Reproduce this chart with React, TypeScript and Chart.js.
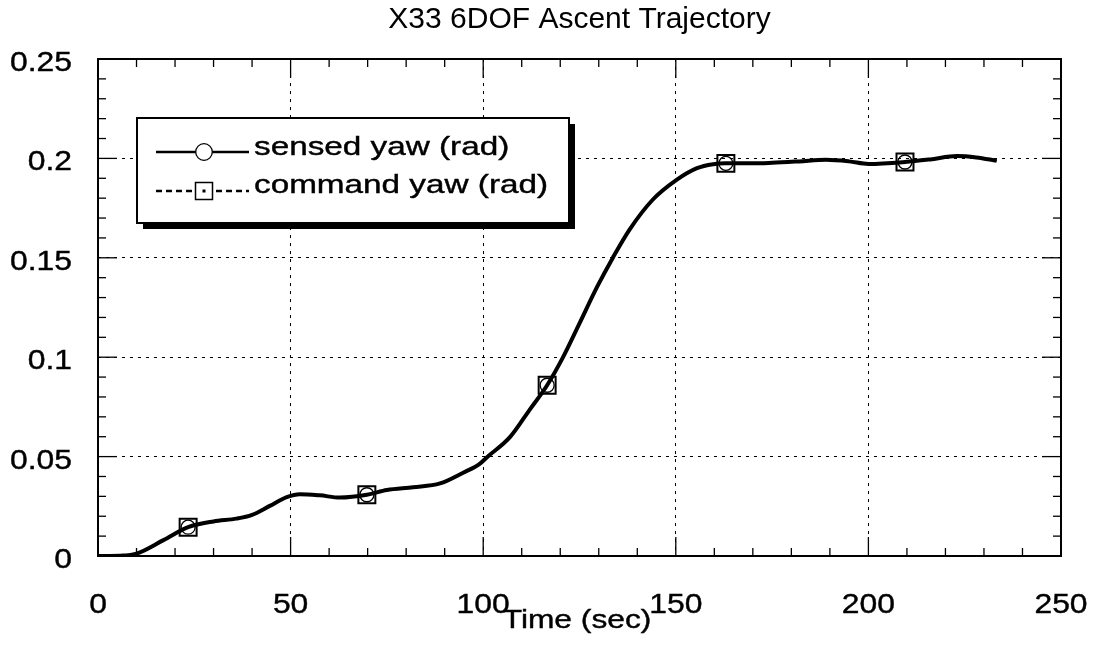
import React, { useEffect, useRef } from 'react';
import { Chart, registerables } from 'chart.js';

Chart.register(...registerables);

// Time samples (s) and yaw angles (rad)
const timeSec = [
  0, 3, 6.5, 10, 17, 23.4, 30, 36, 40, 44.6, 49, 52.4, 57.6, 62.8, 69.8, 75, 81.8, 88.8, 94.8, 99,
  101, 107, 112, 116.6, 120.7, 125, 129.5, 133.7, 138, 144, 150.2, 155.5, 159.7, 163, 170, 175, 182,
  189, 195, 200, 209.5, 216, 223, 228, 233.3,
];
const sensedYaw = [
  0, 0, 0.0002, 0.0012, 0.008, 0.0145, 0.0174, 0.0188, 0.0207, 0.0252, 0.0296, 0.0311, 0.0305,
  0.0294, 0.0308, 0.0332, 0.0346, 0.0365, 0.0419, 0.0462, 0.0497, 0.0599, 0.0734, 0.0859, 0.0999,
  0.117, 0.1351, 0.1502, 0.1642, 0.1792, 0.1892, 0.1951, 0.1971, 0.1975, 0.1975, 0.1978, 0.1985,
  0.1993, 0.1985, 0.1972, 0.1982, 0.1995, 0.2012, 0.2005, 0.1988,
];
const commandYaw = [
  0, 0, 0.0002, 0.0012, 0.008, 0.0145, 0.0174, 0.0188, 0.0207, 0.0252, 0.0296, 0.0311, 0.0305,
  0.0294, 0.0308, 0.0332, 0.0346, 0.0365, 0.0419, 0.0462, 0.0497, 0.0599, 0.0734, 0.0859, 0.0999,
  0.117, 0.1351, 0.1502, 0.1642, 0.1792, 0.1892, 0.1951, 0.1971, 0.1975, 0.1975, 0.1978, 0.1985,
  0.1993, 0.1985, 0.1972, 0.1982, 0.1995, 0.2012, 0.2005, 0.1988,
];
// Sample times that carry a marker symbol
const markerTimes = [23.4, 69.8, 116.6, 163, 209.5];

const xTickLabels = ['0', '50', '100', '150', '200', '250'];
const yTickLabels = ['0', '0.05', '0.1', '0.15', '0.2', '0.25'];
const seriesNames = ['sensed yaw (rad)', 'command yaw (rad)'];
const chartTitle = 'X33 6DOF Ascent Trajectory';
const xAxisTitle = 'Time (sec)';

const FONT = '"Liberation Sans", Arial, Helvetica, sans-serif';

// Horizontally widened text with a hairline outline for a heavier stroke
function wideText(
  ctx: CanvasRenderingContext2D,
  text: string,
  x: number,
  y: number,
  size: number,
  align: CanvasTextAlign,
  sx: number,
) {
  ctx.save();
  ctx.font = `${size}px ${FONT}`;
  ctx.textAlign = align;
  ctx.textBaseline = 'alphabetic';
  ctx.fillStyle = '#000';
  ctx.strokeStyle = '#000';
  ctx.lineWidth = 0.4;
  ctx.translate(x, y);
  ctx.scale(sx, 1);
  ctx.fillText(text, 0, 0);
  ctx.strokeText(text, 0, 0);
  ctx.restore();
}

function seg(ctx: CanvasRenderingContext2D, x1: number, y1: number, x2: number, y2: number) {
  ctx.beginPath();
  ctx.moveTo(x1, y1);
  ctx.lineTo(x2, y2);
  ctx.stroke();
}

// Boxed frame with inward major/minor ticks on all four sides
const framePlugin = {
  id: 'frame',
  beforeDatasetsDraw(chart: any) {
    const { ctx, chartArea, scales } = chart;
    const { left, right, top, bottom } = chartArea;
    const xs = scales.x;
    const ys = scales.y;
    ctx.save();
    ctx.strokeStyle = '#000';
    ctx.lineWidth = 1.3;
    for (let i = 0; i <= 25; i++) {
      const px = xs.getPixelForValue(i * 10);
      const len = i % 5 === 0 ? 19 : 8;
      seg(ctx, px, bottom, px, bottom - len);
      seg(ctx, px, top, px, top + len);
    }
    for (let i = 0; i <= 25; i++) {
      const py = ys.getPixelForValue(i * 0.01);
      const len = i % 5 === 0 ? 19 : 8;
      seg(ctx, left, py, left + len, py);
      seg(ctx, right, py, right - len, py);
    }
    ctx.lineWidth = 2;
    ctx.strokeRect(left, top, right - left, bottom - top);
    ctx.restore();
  },
};

// Tick labels, axis title and the boxed legend with drop shadow
const labelsPlugin = {
  id: 'labels',
  afterDraw(chart: any) {
    const { ctx, scales } = chart;
    const xs = scales.x;
    const ys = scales.y;
    xTickLabels.forEach((l) => wideText(ctx, l, xs.getPixelForValue(Number(l)), 613, 27, 'center', 1.18));
    yTickLabels.forEach((l) => wideText(ctx, l, 72, ys.getPixelForValue(Number(l)) + 12, 27, 'right', 1.18));
    wideText(ctx, xAxisTitle, 577, 628, 26, 'center', 1.22);

    // legend box
    const bx = 137, by = 118, bw = 432, bh = 105, sh = 6;
    ctx.save();
    ctx.fillStyle = '#000';
    ctx.fillRect(bx + sh, by + bh, bw, sh);
    ctx.fillRect(bx + bw, by + sh, sh, bh);
    ctx.fillStyle = '#fff';
    ctx.fillRect(bx, by, bw, bh);
    ctx.strokeStyle = '#000';
    ctx.lineWidth = 2;
    ctx.strokeRect(bx, by, bw, bh);

    // row 1: solid line with circle
    ctx.lineWidth = 2.5;
    seg(ctx, 156, 152, 249, 152);
    ctx.lineWidth = 1.3;
    ctx.beginPath();
    ctx.arc(204, 152, 8.3, 0, Math.PI * 2);
    ctx.fillStyle = '#fff';
    ctx.fill();
    ctx.stroke();
    // row 2: dashed line with square
    ctx.lineWidth = 2.5;
    ctx.setLineDash([6, 4]);
    seg(ctx, 156, 191, 249, 191);
    ctx.setLineDash([]);
    ctx.lineWidth = 1.5;
    ctx.fillStyle = '#fff';
    ctx.fillRect(195.5, 182.5, 17, 17);
    ctx.strokeRect(195.5, 182.5, 17, 17);
    ctx.fillStyle = '#000';
    ctx.fillRect(202.5, 189.5, 3, 3);
    ctx.restore();

    wideText(ctx, seriesNames[0], 254, 155, 26, 'left', 1.28);
    wideText(ctx, seriesNames[1], 254, 193, 26, 'left', 1.28);
  },
};

const isMarker = (c: any) => markerTimes.includes(timeSec[c.dataIndex]);

export default function App() {
  const canvasRef = useRef<HTMLCanvasElement | null>(null);

  useEffect(() => {
    document.body.style.margin = '0';
    const canvas = canvasRef.current;
    if (!canvas) return;

    const chart = new Chart(canvas, {
      type: 'line',
      data: {
        datasets: [
          {
            label: seriesNames[0],
            data: timeSec.map((t, i) => ({ x: t, y: sensedYaw[i] })),
            borderColor: '#000',
            borderWidth: 4,
            cubicInterpolationMode: 'monotone',
            pointStyle: 'circle',
            pointRadius: (c: any) => (isMarker(c) ? 7 : 0),
            pointBorderWidth: 1.3,
            pointBorderColor: '#000',
            pointBackgroundColor: 'rgba(0,0,0,0)',
          },
          {
            label: seriesNames[1],
            data: timeSec.map((t, i) => ({ x: t, y: commandYaw[i] })),
            borderColor: '#000',
            borderWidth: 1.5,
            borderDash: [4, 4],
            cubicInterpolationMode: 'monotone',
            pointStyle: 'rect',
            pointRadius: (c: any) => (isMarker(c) ? 12 : 0),
            pointBorderWidth: 2,
            pointBorderColor: '#000',
            pointBackgroundColor: 'rgba(0,0,0,0)',
          },
        ],
      },
      options: {
        animation: false,
        responsive: false,
        layout: { padding: { left: 0, right: 32, top: 0, bottom: 0 } },
        plugins: {
          legend: { display: false },
          tooltip: { enabled: false },
          title: {
            display: true,
            text: chartTitle,
            fullSize: false,
            color: '#000',
            font: { family: FONT, size: 30, weight: 'normal', lineHeight: 1.2 },
            padding: { top: 2, bottom: 21 },
          },
        },
        scales: {
          x: {
            type: 'linear',
            min: 0,
            max: 250,
            ticks: { stepSize: 50, display: false },
            grid: {
              color: (c: any) => (c.tick && (c.tick.value === 0 || c.tick.value === 250) ? 'rgba(0,0,0,0)' : '#000'),
              lineWidth: 1,
              drawTicks: false,
            },
            border: { display: false, dash: [3, 5] },
            afterFit: (s: any) => {
              s.height = 93;
            },
          },
          y: {
            type: 'linear',
            min: 0,
            max: 0.25,
            ticks: { stepSize: 0.05, display: false },
            grid: {
              color: (c: any) =>
                c.tick && (Math.abs(c.tick.value) < 1e-9 || Math.abs(c.tick.value - 0.25) < 1e-9) ? 'rgba(0,0,0,0)' : '#000',
              lineWidth: 1,
              drawTicks: false,
            },
            border: { display: false, dash: [3, 5] },
            afterFit: (s: any) => {
              s.width = 98;
            },
          },
        },
      },
      plugins: [framePlugin, labelsPlugin],
    });

    return () => chart.destroy();
  }, []);

  return (
    <div style={{ width: 1093, height: 649, background: '#fff' }}>
      <canvas ref={canvasRef} width={1093} height={649} style={{ display: 'block' }} />
    </div>
  );
}
